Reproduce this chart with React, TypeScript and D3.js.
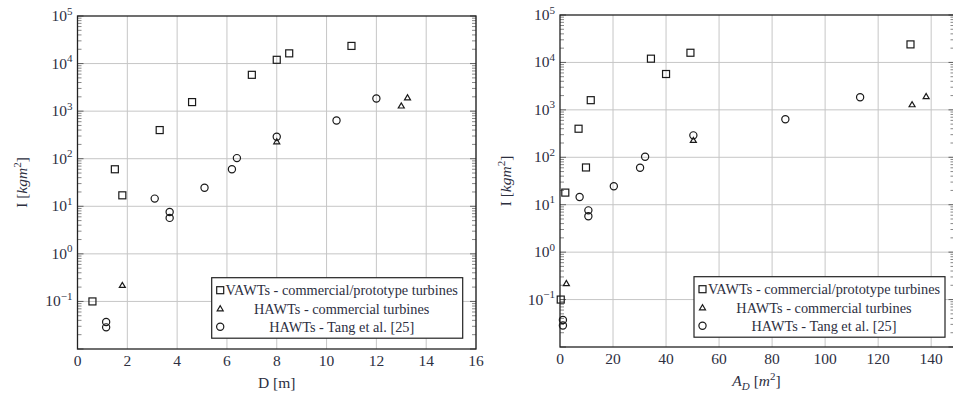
import React from "react";
import { scaleLinear, scaleLog, range } from "d3";

// left panel: rotor diameter D [m] vs inertia I [kgm^2]
const vawtD = [0.6, 1.5, 1.8, 3.3, 4.6, 7, 8, 8.5, 11];
const vawtI_D = [0.1, 60, 17, 400, 1550, 5800, 12000, 16400, 23500];
const hawtComD = [1.8, 8, 13, 13.25];
const hawtComI_D = [0.22, 230, 1300, 1930];
const tangD = [1.15, 1.15, 3.1, 3.7, 3.7, 5.1, 6.2, 6.4, 8, 10.4, 12];
const tangI_D = [0.037, 0.0285, 14.5, 7.6, 5.7, 24.5, 60, 103, 290, 635, 1840];

// right panel: swept area A_D [m^2] vs inertia
const vawtA = [0.28, 2, 7, 9.8, 11.6, 34.3, 40, 49.2, 132.2];
const vawtI_A = [0.1, 18, 400, 61, 1600, 12000, 5700, 16000, 24000];
const hawtComA = [2.4, 50.3, 132.8, 138.1];
const hawtComI_A = [0.22, 230, 1300, 1930];
const tangA = [1.1, 1.1, 7.4, 10.7, 10.7, 20.3, 30.2, 32.1, 50.3, 85, 113.2];
const tangI_A = [0.037, 0.0285, 14.5, 7.6, 5.7, 24.5, 60, 103, 290, 635, 1840];

const decades = [-2, -1, 0, 1, 2, 3, 4, 5];
const leftXTicks = [0, 2, 4, 6, 8, 10, 12, 14, 16];
const rightXTicks = [0, 20, 40, 60, 80, 100, 120, 140];
const legendLabels = [
  "VAWTs - commercial/prototype turbines",
  "HAWTs - commercial turbines",
  "HAWTs - Tang et al. [25]",
];

const FONT = "'Liberation Serif', 'Times New Roman', serif";
const TXT = "#2d2f3f";
const GRID = "#c6c6c6";
const INK = "#1a1a1a";

const Square = ({ x, y }: { x: number; y: number }) => (
  <rect x={x - 3.5} y={y - 3.5} width={7} height={7} fill="none" stroke={INK} strokeWidth={1.2} />
);
const Circle = ({ x, y }: { x: number; y: number }) => (
  <circle cx={x} cy={y} r={3.6} fill="none" stroke={INK} strokeWidth={1.2} />
);
const Tri = ({ x, y }: { x: number; y: number }) => (
  <path d={`M${x - 3},${y + 2.3}L${x + 3},${y + 2.3}L${x},${y - 2.8}Z`} fill="none" stroke={INK} strokeWidth={1.2} />
);

type PanelProps = {
  left: number;
  right: number;
  top: number;
  bottom: number;
  xMax: number;
  xTicks: number[];
  sq: [number[], number[]];
  tri: [number[], number[]];
  circ: [number[], number[]];
  xLabel: React.ReactNode;
  yLabelX: number;
  legendX: number;
  legendY: number;
};

const Panel = (p: PanelProps) => {
  const x = scaleLinear().domain([0, p.xMax]).range([p.left, p.right]);
  const y = scaleLog().domain([1e-2, 1e5]).range([p.bottom, p.top]);
  const minor: number[] = [];
  decades.slice(0, -1).forEach((d) => range(2, 10).forEach((m) => minor.push(m * Math.pow(10, d))));
  const midX = (p.left + Math.min(p.right, 953)) / 2;
  const midY = (p.top + p.bottom) / 2;
  const lw = 251;
  const lh = 60.5;

  return (
    <g fontFamily={FONT}>
      {/* grid */}
      {p.xTicks.slice(1).map((t) => (
        <line key={"gx" + t} x1={x(t)} x2={x(t)} y1={p.top} y2={p.bottom} stroke={GRID} />
      ))}
      {decades.slice(1, -1).map((d) => (
        <line key={"gy" + d} x1={p.left} x2={p.right} y1={y(Math.pow(10, d))} y2={y(Math.pow(10, d))} stroke={GRID} />
      ))}
      {/* minor ticks */}
      {minor.map((v, i) => (
        <g key={"mt" + i} stroke="#555" strokeWidth={0.7}>
          <line x1={p.left} x2={p.left + 4} y1={y(v)} y2={y(v)} />
          <line x1={p.right} x2={p.right - 4} y1={y(v)} y2={y(v)} />
        </g>
      ))}
      {decades.map((d) => (
        <g key={"Mt" + d} stroke="#444" strokeWidth={0.8}>
          <line x1={p.left} x2={p.left + 6} y1={y(Math.pow(10, d))} y2={y(Math.pow(10, d))} />
          <line x1={p.right} x2={p.right - 6} y1={y(Math.pow(10, d))} y2={y(Math.pow(10, d))} />
        </g>
      ))}
      <rect x={p.left} y={p.top} width={p.right - p.left} height={p.bottom - p.top} fill="none" stroke="#222" strokeWidth={1.3} />

      {/* y tick labels */}
      {decades.slice(1).map((d) => (
        <text key={"yl" + d} x={p.left - 5} y={y(Math.pow(10, d)) + 5} textAnchor="end" fontSize={15.5} fill={TXT}>
          10
          <tspan dy={-6.5} fontSize={11}>
            {d < 0 ? "\u2212" + -d : d}
          </tspan>
        </text>
      ))}
      {/* x tick labels */}
      {p.xTicks.map((t) => (
        <text key={"xl" + t} x={x(t)} y={p.bottom + 17} textAnchor="middle" fontSize={15.5} fill={TXT}>
          {t}
        </text>
      ))}
      <text x={midX} y={p.bottom + 39} textAnchor="middle" fontSize={15.5} fill={TXT}>
        {p.xLabel}
      </text>
      <text transform={`translate(${p.yLabelX},${midY}) rotate(-90)`} textAnchor="middle" fontSize={15.5} fill={TXT}>
        I [<tspan fontStyle="italic">kgm</tspan>
        <tspan dy={-6.5} fontSize={11}>2</tspan>
        <tspan dy={6.5}>]</tspan>
      </text>

      {/* data */}
      {p.circ[0].map((v, i) => <Circle key={"c" + i} x={x(v)} y={y(p.circ[1][i])} />)}
      {p.tri[0].map((v, i) => <Tri key={"t" + i} x={x(v)} y={y(p.tri[1][i])} />)}
      {p.sq[0].map((v, i) => <Square key={"s" + i} x={x(v)} y={y(p.sq[1][i])} />)}

      {/* legend */}
      <rect x={p.legendX} y={p.legendY} width={lw} height={lh} fill="white" stroke="#222" strokeWidth={1.2} />
      {legendLabels.map((l, i) => {
        const ly = p.legendY + 12.5 + i * 18.3;
        const mx = p.legendX + 8.5;
        return (
          <g key={"lg" + i}>
            {i === 0 ? <Square x={mx} y={ly} /> : i === 1 ? <Tri x={mx} y={ly} /> : <Circle x={mx} y={ly} />}
            <text x={p.legendX + 130} y={ly + 5} textAnchor="middle" fontSize={14.3} fill={TXT}>
              {l}
            </text>
          </g>
        );
      })}
    </g>
  );
};

export default function App() {
  return (
    <svg width={953} height={394} style={{ position: "absolute", left: 0, top: 0, background: "white" }}>
      <Panel
        left={77.5}
        right={476}
        top={16}
        bottom={349}
        xMax={16}
        xTicks={leftXTicks}
        sq={[vawtD, vawtI_D]}
        tri={[hawtComD, hawtComI_D]}
        circ={[tangD, tangI_D]}
        xLabel={<>D [m]</>}
        yLabelX={27}
        legendX={211.7}
        legendY={277.7}
      />
      <Panel
        left={560}
        right={954.5}
        top={15}
        bottom={347}
        xMax={148.8}
        xTicks={rightXTicks}
        sq={[vawtA, vawtI_A]}
        tri={[hawtComA, hawtComI_A]}
        circ={[tangA, tangI_A]}
        xLabel={
          <>
            <tspan fontStyle="italic">A</tspan>
            <tspan dy={4} fontSize={11} fontStyle="italic">D</tspan>
            <tspan dy={-4}> [</tspan>
            <tspan fontStyle="italic">m</tspan>
            <tspan dy={-6.5} fontSize={11}>2</tspan>
            <tspan dy={6.5}>]</tspan>
          </>
        }
        yLabelX={511}
        legendX={694}
        legendY={276.7}
      />
    </svg>
  );
}
